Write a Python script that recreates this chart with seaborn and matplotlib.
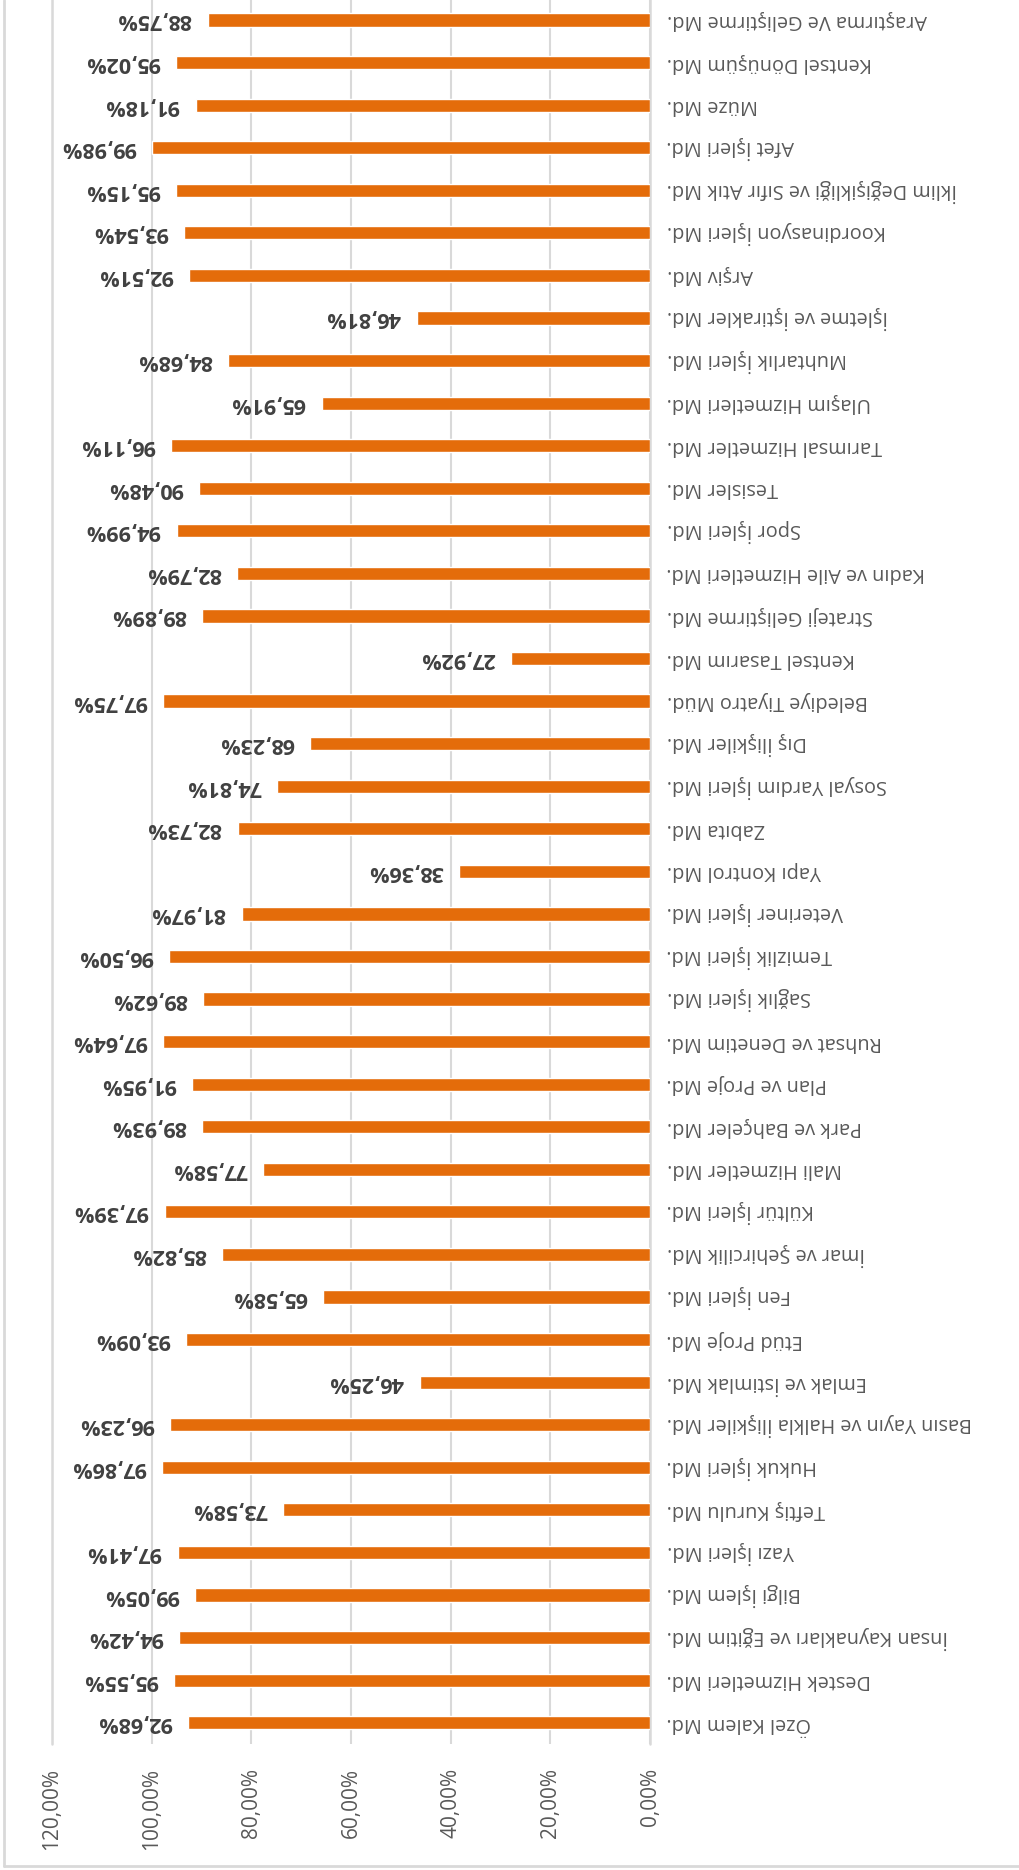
import matplotlib
matplotlib.use("Agg")
import matplotlib.pyplot as plt
from matplotlib.lines import Line2D
import seaborn as sns
import pandas as pd

# ---- data (listed from the chart's first category to its last) ----
categories = [
    "Özel Kalem Md.",
    "Destek Hizmetleri Md.",
    "İnsan Kaynakları ve Eğitim Md.",
    "Bilgi İşlem Md.",
    "Yazı İşleri Md.",
    "Teftiş Kurulu Md.",
    "Hukuk İşleri Md.",
    "Basın Yayın ve Halkla İlişkiler Md.",
    "Emlak ve İstimlak Md.",
    "Etüd Proje Md.",
    "Fen İşleri Md.",
    "İmar ve Şehircilik Md.",
    "Kültür İşleri Md.",
    "Mali Hizmetler Md.",
    "Park ve Bahçeler Md.",
    "Plan ve Proje Md.",
    "Ruhsat ve Denetim Md.",
    "Sağlık İşleri Md.",
    "Temizlik İşleri Md.",
    "Veteriner İşleri Md.",
    "Yapı Kontrol Md.",
    "Zabıta Md.",
    "Sosyal Yardım İşleri Md.",
    "Dış İlişkiler Md.",
    "Belediye Tiyatro Müd.",
    "Kentsel Tasarım Md.",
    "Strateji Geliştirme Md.",
    "Kadın ve Aile Hizmetleri Md.",
    "Spor İşleri Md.",
    "Tesisler Md.",
    "Tarımsal Hizmetler Md.",
    "Ulaşım Hizmetleri Md.",
    "Muhtarlık İşleri Md.",
    "İşletme ve İştirakler Md.",
    "Arşiv Md.",
    "Koordinasyon İşleri Md.",
    "İklim Değişikliği ve Sıfır Atık Md.",
    "Afet İşleri Md.",
    "Müze Md.",
    "Kentsel Dönüşüm Md.",
    "Araştırma Ve Geliştirme Md.",
]

# bar lengths as drawn (percent)
values = [
    92.68, 95.55, 94.42, 91.3, 94.8, 73.58, 97.86, 96.23, 46.25, 93.09,
    65.58, 85.82, 97.39, 77.58, 89.93, 91.95, 97.64, 89.62, 96.50, 81.97,
    38.36, 82.73, 74.81, 68.23, 97.75, 27.92, 89.89, 82.79, 94.99, 90.48,
    96.11, 65.91, 84.68, 46.81, 92.51, 93.54, 95.15, 99.98, 91.18, 95.02,
    88.75,
]

# data labels as printed on the chart
value_labels = [
    "92,68%", "95,55%", "94,42%", "99,05%", "97,41%", "73,58%", "97,86%",
    "96,23%", "46,25%", "93,09%", "65,58%", "85,82%", "97,39%", "77,58%",
    "89,93%", "91,95%", "97,64%", "89,62%", "96,50%", "81,97%", "38,36%",
    "82,73%", "74,81%", "68,23%", "97,75%", "27,92%", "89,89%", "82,79%",
    "94,99%", "90,48%", "96,11%", "65,91%", "84,68%", "46,81%", "92,51%",
    "93,54%", "95,15%", "99,98%", "91,18%", "95,02%", "88,75%",
]

x_ticks = [0, 20, 40, 60, 80, 100, 120]
x_tick_labels = ["0,00%", "20,00%", "40,00%", "60,00%", "80,00%", "100,00%", "120,00%"]

# ---- style ----
sns.set_theme(style="white")
plt.rcParams["font.family"] = ["Open Sans", "DejaVu Sans"]

BAR = "#E46C0A"
GRID = "#d9d9d9"
TICK = "#595959"
VAL = "#404040"

W, H = 1019, 1870
fig = plt.figure(figsize=(W / 100, H / 100), dpi=100)
fig.patch.set_facecolor("white")
ax = fig.add_axes([52 / W, (H - 1744) / H, 598 / W, 1745.3 / H])

df = pd.DataFrame({"cat": categories, "val": values})
sns.barplot(data=df, y="cat", x="val", order=categories, orient="h",
            color=BAR, saturation=1, width=0.31, ax=ax)

ax.set_xlim(120, 0)
ax.set_ylim(-0.5, len(categories) - 0.5)
ax.set_xlabel("")
ax.set_ylabel("")

for s in ax.spines.values():
    s.set_visible(False)

ax.set_xticks(x_ticks)
ax.set_xticklabels(x_tick_labels)
ax.tick_params(axis="x", length=0, pad=17, labelrotation=90,
               labelsize=15, labelcolor=TICK)

ax.yaxis.tick_right()
ax.tick_params(axis="y", length=0, pad=12, labelrotation=180,
               labelsize=14.3, labelcolor=TICK)
for lab in ax.get_yticklabels():
    lab.set_ha("left")
    lab.set_va("center")

ax.grid(axis="x", color=GRID, lw=1.5)
ax.grid(axis="y", visible=False)
ax.set_axisbelow(True)
for xv in (0, 120):
    ax.axvline(xv, color=GRID, lw=1.8, clip_on=False, zorder=0.5)

for i, (v, lab) in enumerate(zip(values, value_labels)):
    ax.annotate(lab, xy=(v, i), xytext=(-16 * 0.72, 0),
                textcoords="offset points", ha="right", va="center",
                rotation=180, fontsize=15.5, fontweight="bold", color=VAL)

# chart-area border (left and bottom visible)
fig.add_artist(Line2D([4 / W, 4 / W], [4 / H, 1], transform=fig.transFigure,
                      color=GRID, lw=2))
fig.add_artist(Line2D([4 / W, 1], [4 / H, 4 / H], transform=fig.transFigure,
                      color=GRID, lw=2))

fig.savefig("out.png", dpi=100)
